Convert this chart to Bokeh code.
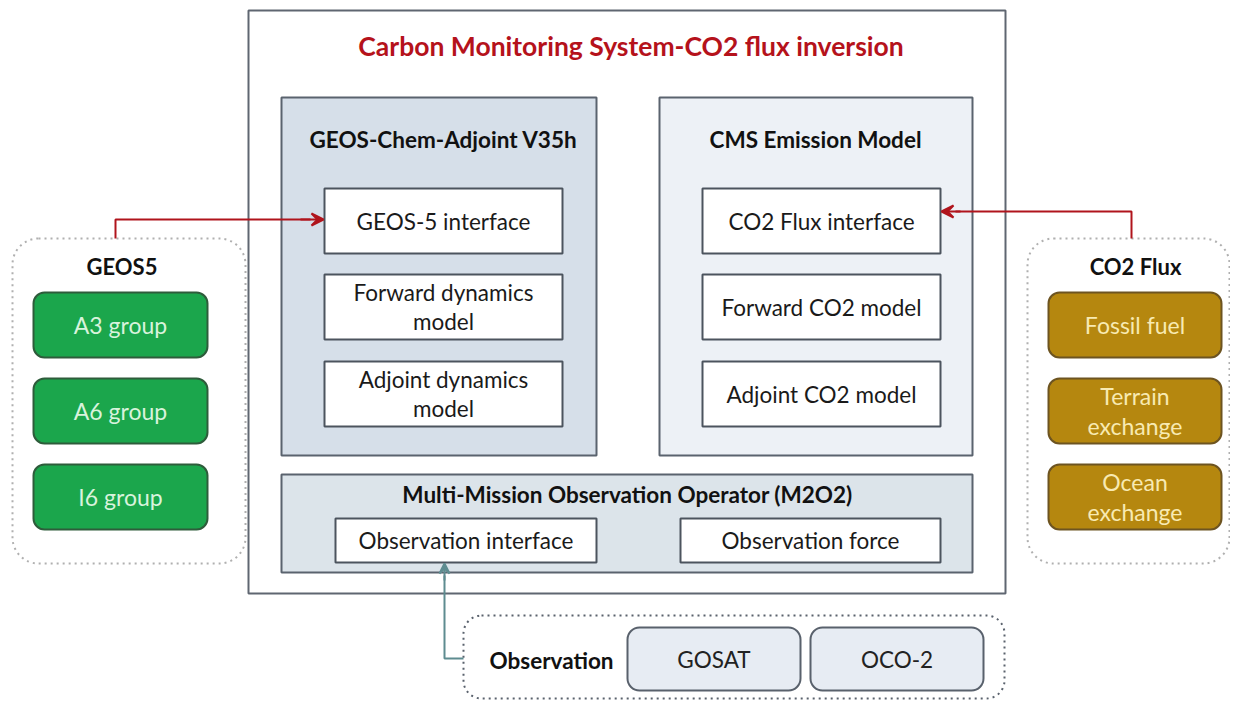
from bokeh.plotting import figure
from bokeh.models import Range1d, Arrow, VeeHead, ColumnDataSource
from bokeh.core.properties import value
from bokeh.embed import file_html
from bokeh.resources import INLINE

FONT = "Lato"

# ---- labels ----
title_text = "Carbon Monitoring System-CO2 flux inversion"
panel_titles = ["GEOS-Chem-Adjoint V35h", "CMS Emission Model", "Multi-Mission Observation Operator (M2O2)"]
geos_chem_items = ["GEOS-5 interface", "Forward dynamics\nmodel", "Adjoint dynamics\nmodel"]
cms_items = ["CO2 Flux interface", "Forward CO2 model", "Adjoint CO2 model"]
m2o2_items = ["Observation interface", "Observation force"]
geos5_title = "GEOS5"
geos5_items = ["A3 group", "A6 group", "I6 group"]
flux_title = "CO2 Flux"
flux_items = ["Fossil fuel", "Terrain\nexchange", "Ocean\nexchange"]
obs_title = "Observation"
obs_items = ["GOSAT", "OCO-2"]

# ---- geometry (pixel layout) ----
outer_box = (248, 1005, 10, 593)
panel_boxes = [(281, 596, 97, 455), (659, 972, 97, 455), (281, 972, 474, 572)]
panel_fills = ["#d6dfe9", "#edf1f6", "#dce4ea"]
panel_title_pos = [(443, 139), (815, 139), (627, 494)]
inner_rows = [(188, 253), (274, 339), (361, 426)]
left_inner_x = (324, 562)
right_inner_x = (702, 940)
m2o2_boxes = [(335, 596, 518, 562), (680, 940, 518, 562)]
geos5_frame = (12, 245, 238, 563)
flux_frame = (1027, 1229, 238, 563)
side_rows = [(292, 357), (378, 443), (464, 529)]
geos5_x = (33, 207)
flux_x = (1048, 1221)
obs_frame = (463, 1004, 615, 698)
obs_boxes = [(627, 800, 627, 690), (810, 983, 627, 690)]

W, H = 1230, 700
p = figure(width=W, height=H, x_range=Range1d(0, W), y_range=Range1d(H, 0),
           output_backend="svg", toolbar_location=None, min_border=0)
p.axis.visible = False
p.grid.visible = False
p.outline_line_color = None
p.background_fill_color = "white"


def boxes(rects, fill, line, width=2, radius=0, dash="solid", alpha=1.0):
    src = ColumnDataSource(dict(l=[r[0] for r in rects], r=[r[1] for r in rects],
                                t=[r[2] for r in rects], b=[r[3] for r in rects]))
    p.quad(left="l", right="r", top="t", bottom="b", source=src, fill_color=fill,
           fill_alpha=alpha, line_color=line, line_width=width, line_dash=dash,
           border_radius=radius)


def labels(xs, ys, texts, size, color, style="normal", lh=1.1):
    src = ColumnDataSource(dict(x=xs, y=ys, t=texts))
    p.text(x="x", y="y", text="t", source=src, text_font=value(FONT),
           text_font_size=size, text_color=color, text_font_style=style,
           text_align="center", text_baseline="middle", text_line_height=lh)


# outer frame
boxes([outer_box], "white", "#5f6671", width=2)
labels([(outer_box[0] + outer_box[1]) / 2 + 4], [45], [title_text], "26.5px", "#b5121b", "bold")

# panels
for rect, fill in zip(panel_boxes, panel_fills):
    boxes([rect], fill, "#5a636e", width=2)
labels([q[0] for q in panel_title_pos], [q[1] for q in panel_title_pos], panel_titles,
       "22.5px", "#111111", "bold")

# inner boxes of the two model panels
left_rects = [(left_inner_x[0], left_inner_x[1], r[0], r[1]) for r in inner_rows]
right_rects = [(right_inner_x[0], right_inner_x[1], r[0], r[1]) for r in inner_rows]
boxes(left_rects + right_rects, "white", "#4c545e", width=2)
labels([sum(left_inner_x) / 2] * 3, [sum(r) / 2 for r in inner_rows], geos_chem_items, "22.5px", "#1a1a1a")
labels([sum(right_inner_x) / 2] * 3, [sum(r) / 2 for r in inner_rows], cms_items, "22.5px", "#1a1a1a")

# M2O2 boxes
boxes(m2o2_boxes, "white", "#4c545e", width=2)
labels([(b[0] + b[1]) / 2 for b in m2o2_boxes], [(b[2] + b[3]) / 2 for b in m2o2_boxes],
       m2o2_items, "22.5px", "#1a1a1a")

# side frames (dotted, rounded)
boxes([geos5_frame, flux_frame], "white", "#b0b0b0", width=2, radius=26, dash="dotted")
labels([(geos5_frame[0] + geos5_frame[1]) / 2 - 7, (flux_frame[0] + flux_frame[1]) / 2 + 7],
       [266, 266], [geos5_title, flux_title], "22px", "#111111", "bold")

geos5_rects = [(geos5_x[0], geos5_x[1], r[0], r[1]) for r in side_rows]
boxes(geos5_rects, "#1ba64c", "#2e5c3b", width=2, radius=11)
labels([sum(geos5_x) / 2] * 3, [sum(r) / 2 for r in side_rows], geos5_items, "23px", "#d8f3dc")

flux_rects = [(flux_x[0], flux_x[1], r[0], r[1]) for r in side_rows]
boxes(flux_rects, "#b5870f", "#6d5421", width=2, radius=11)
labels([sum(flux_x) / 2] * 3, [sum(r) / 2 for r in side_rows], flux_items, "23px", "#f8eab2")

# observation frame
boxes([obs_frame], "white", "#5a626d", width=2, radius=18, dash="dotted")
labels([551], [660], [obs_title], "22.5px", "#111111", "bold")
boxes(obs_boxes, "#e7ecf3", "#59616c", width=2, radius=12)
labels([(b[0] + b[1]) / 2 for b in obs_boxes], [(b[2] + b[3]) / 2 for b in obs_boxes],
       obs_items, "22.5px", "#222222")

# connectors
RED = "#b0141c"
TEAL = "#5e8c90"
p.line([115, 115, 310], [238, 219, 219], line_color=RED, line_width=2)
p.add_layout(Arrow(x_start=300, y_start=219, x_end=323, y_end=219, line_color=RED, line_width=2,
                   end=VeeHead(size=12, line_color=RED, fill_color=RED, line_width=2)))
p.line([1131, 1131, 955], [238, 211, 211], line_color=RED, line_width=2)
p.add_layout(Arrow(x_start=960, y_start=211, x_end=941, y_end=211, line_color=RED, line_width=2,
                   end=VeeHead(size=12, line_color=RED, fill_color=RED, line_width=2)))
p.line([463, 444, 444], [658, 658, 575], line_color=TEAL, line_width=2)
p.add_layout(Arrow(x_start=444, y_start=580, x_end=444, y_end=563, line_color=TEAL, line_width=2,
                   end=VeeHead(size=10, line_color=TEAL, fill_color=TEAL, line_width=2)))

open("out.html", "w").write(file_html(p, INLINE))
